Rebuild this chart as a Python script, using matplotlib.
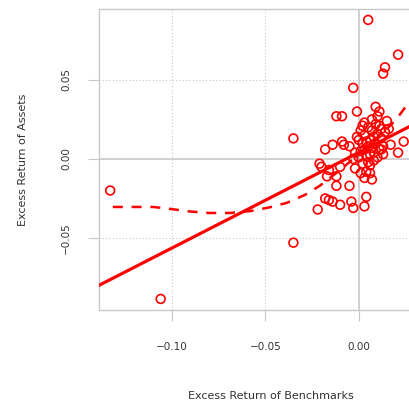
import matplotlib.pyplot as plt

# monthly excess returns (benchmark, asset)
bench_x = [-0.133, -0.106, -0.035, -0.035, 0.005, 0.021, 0.014, 0.013, -0.003, -0.001,
           -0.012, -0.009, 0.009, 0.011, 0.003, 0.024, 0.021, -0.018, -0.009, -0.014,
           0.012, -0.016, -0.017, -0.012, -0.012, -0.005, 0.007, -0.018, -0.016, -0.014,
           -0.022, -0.010, -0.004, -0.003, 0.003, 0.004, -0.020, -0.021, -0.008, -0.005,
           -0.002, -0.010,
           0.001, 0.002, 0.003, 0.004, 0.005, 0.006, 0.007, 0.008, 0.009, 0.010,
           0.011, 0.012, 0.013, 0.014, 0.015, 0.016, 0.002, 0.004, 0.006, 0.008,
           0.010, 0.003, 0.005, 0.007, 0.001, 0.000, 0.000, -0.002, -0.001, 0.009,
           0.011, 0.006, 0.003, 0.008, 0.004, 0.012, 0.002, 0.005, 0.007, 0.010,
           0.013, 0.017, 0.001, -0.003, 0.006]
asset_y = [-0.020, -0.0886, 0.013, -0.053, 0.088, 0.066, 0.058, 0.054, 0.045, 0.030,
           0.027, 0.027, 0.033, 0.030, 0.023, 0.011, 0.004, 0.006, 0.011, 0.009,
           0.006, -0.007, -0.011, -0.011, -0.017, -0.017, -0.013, -0.025, -0.026, -0.027,
           -0.032, -0.029, -0.027, -0.031, -0.030, -0.024, -0.005, -0.003, 0.009, 0.008,
           -0.006, -0.005,
           0.005, 0.010, 0.015, 0.002, 0.008, 0.012, 0.018, 0.004, 0.010, 0.016,
           0.021, 0.013, 0.008, 0.017, 0.024, 0.019, -0.003, -0.008, -0.004, -0.001,
           0.001, 0.006, 0.020, 0.025, 0.018, 0.012, 0.001, 0.004, 0.014, 0.022,
           0.006, -0.009, -0.012, 0.014, 0.011, 0.019, 0.021, -0.002, 0.007, 0.027,
           0.003, 0.009, -0.009, 0.000, 0.003]

# least squares line (intercept, slope) as drawn
fit_a = 0.0041
fit_b = 0.605

# smoother (dashed)
smooth_x = [-0.1316, -0.110, -0.101, -0.090, -0.080, -0.069, -0.058, -0.0476, -0.0385,
            -0.0289, -0.0209, -0.010, 0.000, 0.010, 0.020, 0.0246, 0.030]
smooth_y = [-0.0304, -0.0304, -0.0316, -0.0333, -0.0342, -0.0342, -0.0330, -0.0306, -0.0278,
            -0.0228, -0.0170, -0.0070, 0.0030, 0.0130, 0.0250, 0.0323, 0.038]

xticks = [-0.10, -0.05, 0.00]
yticks = [-0.05, 0.00, 0.05]
xlim = (-0.139, 0.045)
ylim = (-0.0956, 0.0949)

red = '#ff0000'
grey = '#c8c8c8'

fig = plt.figure(figsize=(4.09, 4.03), dpi=100)
ax = fig.add_axes([0.242, 0.2308, 0.841, 0.7469])
ax.set_xlim(*xlim)
ax.set_ylim(*ylim)

# dotted grid plus solid zero lines
for t in xticks:
    if t == 0:
        ax.axvline(t, color=grey, lw=1.2, zorder=1)
    else:
        ax.axvline(t, color=grey, lw=0.8, ls=(0, (1, 2)), zorder=1)
for t in yticks:
    if t == 0:
        ax.axhline(t, color=grey, lw=1.2, zorder=1)
    else:
        ax.axhline(t, color=grey, lw=0.8, ls=(0, (1, 2)), zorder=1)

ax.scatter(bench_x, asset_y, s=40, facecolors='none', edgecolors=red, linewidths=1.2, zorder=3)

ax.plot(list(xlim), [fit_a + fit_b * xlim[0], fit_a + fit_b * xlim[1]], color=red, lw=2.3, zorder=4)
ax.plot(smooth_x, smooth_y, color=red, lw=1.8, ls=(0, (4, 3.5)), zorder=4)

for s in ax.spines.values():
    s.set_color(grey)
    s.set_linewidth(1.0)

ax.set_xticks(xticks)
ax.set_yticks(yticks)
ax.set_xticklabels(['\u22120.10', '\u22120.05', '0.00'])
ax.set_yticklabels(['\u22120.05', '0.00', '0.05'], rotation=90, va='center')
ax.tick_params(length=8, width=0.8, color=grey, labelsize=7.5, labelcolor='#333333', pad=12)
ax.tick_params(axis='x', pad=15)

ax.set_xlabel('Excess Return of Benchmarks', fontsize=8, color='#333333', labelpad=28)
ax.set_ylabel('Excess Return of Assets', fontsize=8, color='#333333', labelpad=24)

fig.savefig('out.png', dpi=100)
